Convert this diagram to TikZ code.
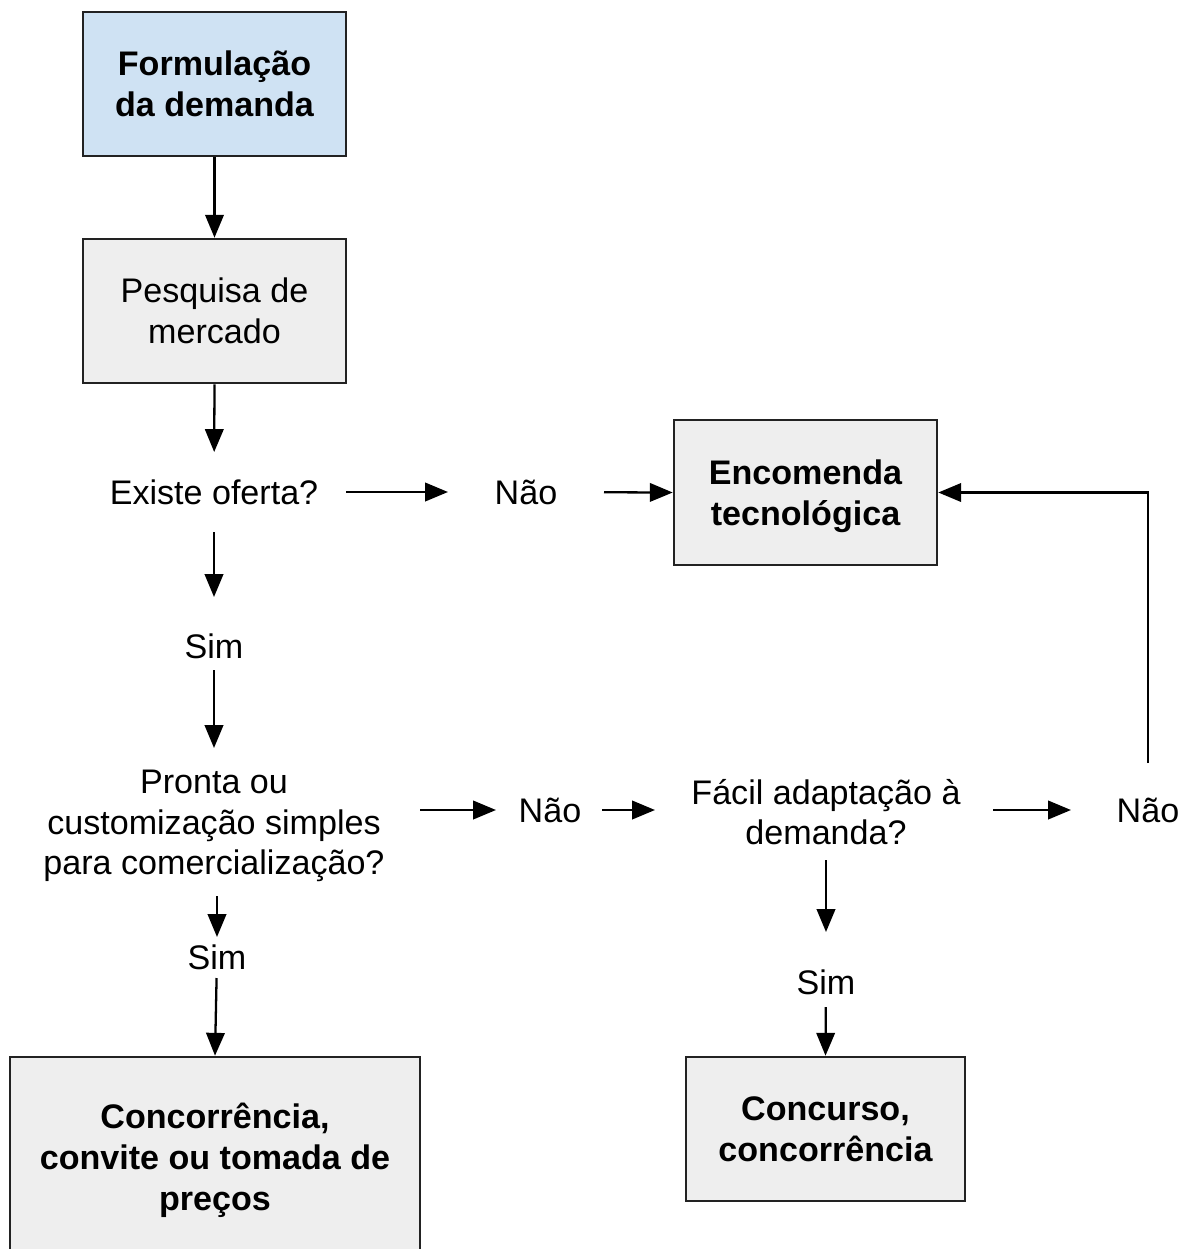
\documentclass[tikz,border=0pt]{standalone}
\usepackage{fontspec}
\setmainfont{Liberation Sans}
\usetikzlibrary{arrows.meta,calc}
\definecolor{boxblue}{HTML}{CFE2F3}
\definecolor{boxgray}{HTML}{EEEEEE}
\definecolor{edge}{HTML}{222222}

\begin{document}
\begin{tikzpicture}[x=0.02cm,y=-0.02cm,
  txt/.style={inner sep=0pt, align=center, font=\fontsize{19.4}{23.2}\selectfont},
  box/.style={draw=edge, line width=1.5pt, inner sep=0pt, align=center,
    font=\fontsize{19.4}{23.2}\selectfont\bfseries},
  plain/.style={box, font=\fontsize{19.4}{23.2}\selectfont},
  arr/.style={line width=1.3pt, -{Triangle[length=13pt,width=10.5pt]}},
  sa/.style={shorten <=#1*0.02cm},
  sb/.style={shorten >=#1*0.02cm}]

\clip (0,0) rectangle (1181,1249);
\fill[white] (0,0) rectangle (1181,1249);

% process boxes
\node[box, fill=boxblue, minimum width=5.26cm, minimum height=2.88cm] (b1) at (214.5,84) {Formulação\\da demanda};
\node[plain, fill=boxgray, minimum width=5.26cm, minimum height=2.88cm] (b2) at (214.5,311) {Pesquisa de\\mercado};
\node[box, fill=boxgray, text depth=0pt, minimum width=5.26cm, minimum height=2.9cm] (b3) at (805.5,492.5) {Encomenda\\tecnológica};
\node[box, fill=boxgray, text depth=0pt, minimum width=8.2cm, minimum height=4cm] (b4) at (215,1157) {Concorrência,\\convite ou tomada de\\preços};
\node[box, fill=boxgray, minimum width=5.58cm, minimum height=2.88cm] (b5) at (825.5,1129) {Concurso,\\concorrência};

% questions and answers
\node[txt] (q1) at (214,492) {Existe oferta?};
\node[txt] (n1) at (526,492) {Não};
\node[txt] (s1) at (214,646) {Sim};
\node[txt] (q2) at (214,826) {Pronta ou\\customização simples\\para comercialização?};
\node[txt] (n2) at (550,810) {Não};
\node[txt] (q3) at (826,812) {Fácil adaptação à\\demanda?};
\node[txt] (n3) at (1148,810) {Não};
\node[txt] (s2) at (217,957) {Sim};
\node[txt] (s3) at (826,982) {Sim};

% connectors
\draw[arr] (b1) -- (b2);
\draw[arr, sb=40] (b2.south) -- (q1.center);
\draw[arr, sa=132, sb=78] (q1.center) -- (n1.center);
\draw[arr, sa=78] (n1.center) -- (b3.west);
\draw[arr, sa=40, sb=49] (q1.center) -- (s1.center);
\draw[arr, sa=24, sb=78] (s1.center) -- (q2.center);
\draw[arr, sa=206, sb=54] (q2.center |- n2.center) -- (n2.center);
\draw[arr, sa=52, sb=171] (n2.center) -- (n2.center -| q3.center);
\draw[arr, sa=167, sb=77] (n3.center -| q3.center) -- (n3.center);
\draw[arr, sa=47] (n3.center) |- (b3.east);
\draw[arr, sa=48, sb=50] (q3.center) -- (s3.center);
\draw[arr, sa=25] (s3.center) -- (b5.north);
\draw[arr, sa=70, sb=20] (s2.center |- q2.center) -- (s2.center);
\draw[arr, sa=21] (s2.center) -- (b4.north);
\end{tikzpicture}
\end{document}
